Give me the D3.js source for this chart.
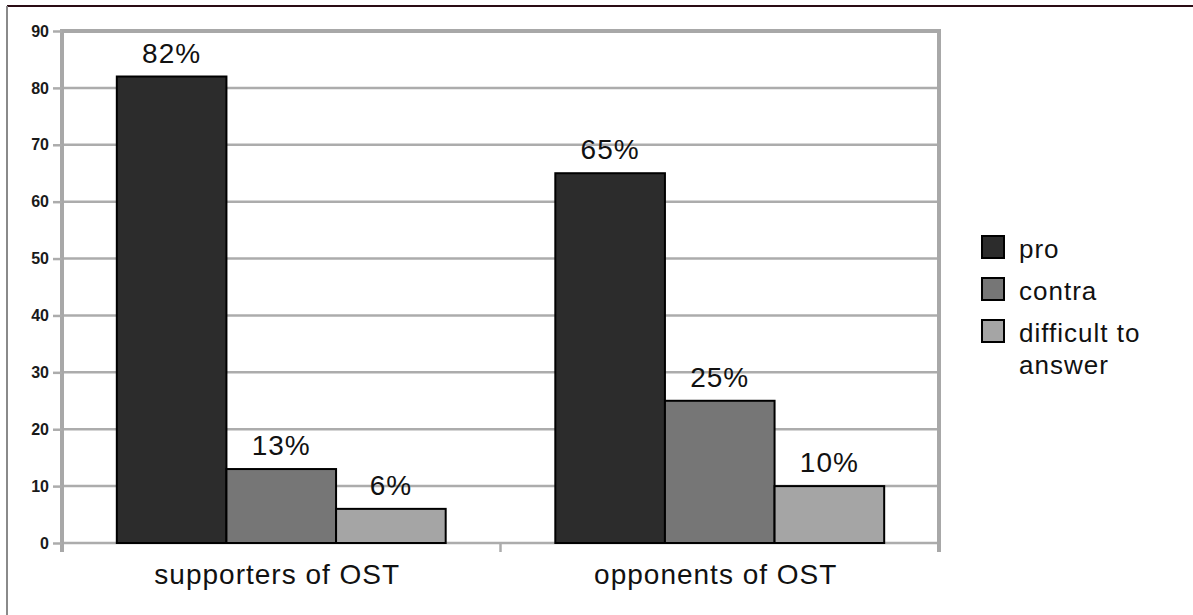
<!DOCTYPE html>
<html>
<head>
<meta charset="utf-8">
<script src="https://cdn.jsdelivr.net/npm/d3@7"></script>
<style>
  html, body { margin: 0; padding: 0; background: #fff; }
  svg { display: block; font-family: "Liberation Sans", Arial, sans-serif; }
</style>
</head>
<body>
<svg id="chart" width="1193" height="615"></svg>
<script>
// Survey answers by group (percent)
const categories = ["supporters of OST", "opponents of OST"];
const seriesNames = ["pro", "contra", "difficult to answer"];
const proValues = [82, 65];
const contraValues = [13, 25];
const difficultValues = [6, 10];
const yTicks = [0, 10, 20, 30, 40, 50, 60, 70, 80, 90];
const legendLines = [["pro"], ["contra"], ["difficult to", "answer"]];

const seriesValues = [proValues, contraValues, difficultValues];
const fills = ["#2c2c2c", "#767676", "#a5a5a5"];

const svg = d3.select("#chart");

// Outer frame of the figure
svg.append("line").attr("x1", 7).attr("x2", 1193).attr("y1", 6).attr("y2", 6)
  .attr("stroke", "#2a0c14").attr("stroke-width", 2);
svg.append("line").attr("x1", 7).attr("x2", 7).attr("y1", 6).attr("y2", 615)
  .attr("stroke", "#8a8a8a").attr("stroke-width", 2);

const plot = { left: 62, right: 939, top: 31, bottom: 543 };

const y = d3.scaleLinear().domain([0, 90]).range([plot.bottom, plot.top]);
const x0 = d3.scaleBand().domain(categories).range([plot.left, plot.right]).padding(0);
const bw = x0.bandwidth();
const x1 = d3.scaleBand().domain(seriesNames)
  .range([bw * 0.125, bw * 0.875]).padding(0);

const grid = "#acacac";

// Horizontal gridlines
svg.append("g").selectAll("line")
  .data(yTicks.filter(t => t > 0 && t < 90))
  .join("line")
  .attr("x1", plot.left).attr("x2", plot.right)
  .attr("y1", d => y(d)).attr("y2", d => y(d))
  .attr("stroke", grid).attr("stroke-width", 2.5);

// Baseline
svg.append("line")
  .attr("x1", plot.left).attr("x2", plot.right)
  .attr("y1", y(0)).attr("y2", y(0))
  .attr("stroke", grid).attr("stroke-width", 2.5);

// Plot frame: top, left and right edges
svg.append("path")
  .attr("d", `M${plot.left},${plot.bottom + 9}V${y(90)}H${plot.right}V${plot.bottom + 9}`)
  .attr("fill", "none").attr("stroke", "#a8a8a8").attr("stroke-width", 4);

// Category separator tick
svg.append("line")
  .attr("x1", x0(categories[1])).attr("x2", x0(categories[1]))
  .attr("y1", y(0)).attr("y2", plot.bottom + 9)
  .attr("stroke", grid).attr("stroke-width", 2.5);

// Y axis
const yAxis = d3.axisLeft(y).tickValues(yTicks).tickSize(9).tickPadding(4);
const gy = svg.append("g").attr("transform", `translate(${plot.left},0)`).call(yAxis);
gy.attr("font-size", null).attr("font-family", null);
gy.select(".domain").remove();
gy.selectAll(".tick line").attr("stroke", grid).attr("stroke-width", 2.5);
gy.selectAll(".tick text")
  .style("font-size", "16px").style("font-weight", "bold")
  .style("fill", "#1a1a1a");

// Bars
const groups = svg.append("g").selectAll("g")
  .data(categories)
  .join("g")
  .attr("transform", d => `translate(${x0(d)},0)`);

groups.each(function(cat, ci) {
  const g = d3.select(this);
  seriesNames.forEach((s, si) => {
    const v = seriesValues[si][ci];
    g.append("rect")
      .attr("x", x1(s)).attr("y", y(v))
      .attr("width", x1.bandwidth()).attr("height", y(0) - y(v))
      .attr("fill", fills[si]).attr("stroke", "#000").attr("stroke-width", 2);
    g.append("text")
      .attr("x", x1(s) + x1.bandwidth() / 2).attr("y", y(v) - 14)
      .attr("text-anchor", "middle").attr("font-size", 28)
      .attr("letter-spacing", 1).attr("fill", "#111")
      .text(v + "%");
  });
});

// Category labels
svg.append("g").selectAll("text")
  .data(categories)
  .join("text")
  .attr("x", d => x0(d) + bw / 2 - 4).attr("y", 584)
  .attr("text-anchor", "middle").attr("font-size", 28)
  .attr("letter-spacing", 1).attr("fill", "#111")
  .text(d => d);

// Legend
const legend = svg.append("g").attr("transform", "translate(982,236)");
seriesNames.forEach((s, i) => {
  const gy0 = i * 42;
  legend.append("rect")
    .attr("x", 0).attr("y", gy0).attr("width", 22).attr("height", 22)
    .attr("fill", fills[i]).attr("stroke", "#000").attr("stroke-width", 2);
  legendLines[i].forEach((line, li) => {
    legend.append("text")
      .attr("x", 37).attr("y", gy0 + 22 + li * 32)
      .attr("font-size", 26).attr("letter-spacing", 1).attr("fill", "#111")
      .text(line);
  });
});
</script>
</body>
</html>
